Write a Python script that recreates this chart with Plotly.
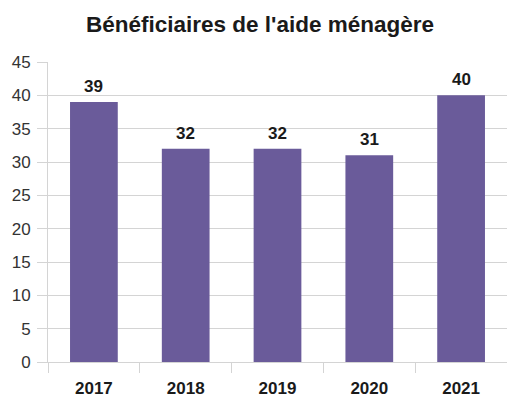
import plotly.graph_objects as go

years = ["2017", "2018", "2019", "2020", "2021"]
beneficiaires = [39, 32, 32, 31, 40]
y_ticks = [0, 5, 10, 15, 20, 25, 30, 35, 40, 45]

bar_color = "#6A5B9A"
grid_color = "#D4D4D4"
text_dark = "#1A1A1A"

fig = go.Figure(
    go.Bar(
        x=years,
        y=beneficiaires,
        marker=dict(color=bar_color, line=dict(width=0)),
        width=0.52,
        hoverinfo="x+y",
    )
)

# Value labels above each bar (category axis positions are given by index)
for idx, value in enumerate(beneficiaires):
    fig.add_annotation(
        x=idx,
        y=value,
        text=str(value),
        showarrow=False,
        xanchor="center",
        yanchor="bottom",
        yshift=4,
        font=dict(family="Liberation Sans", size=17, color=text_dark, weight="bold"),
    )

fig.update_layout(
    width=507,
    height=397,
    margin=dict(l=48, r=0, t=62, b=35),
    paper_bgcolor="white",
    plot_bgcolor="white",
    showlegend=False,
    title=dict(
        text="<b>Bénéficiaires de l'aide ménagère</b>",
        x=260 / 507,
        xanchor="center",
        xref="container",
        y=1 - 24 / 397,
        yanchor="middle",
        yref="container",
        font=dict(family="Liberation Sans", size=22.5, color=text_dark),
    ),
    bargap=0.48,
)

fig.update_xaxes(
    type="category",
    categoryorder="array",
    categoryarray=years,
    range=[-0.5, len(years) - 0.5],
    automargin=False,
    tickson="boundaries",
    ticks="outside",
    ticklen=10,
    tickcolor=grid_color,
    tickwidth=1,
    tickangle=0,
    showgrid=False,
    showline=True,
    linecolor=grid_color,
    ticklabelstandoff=11,
    tickfont=dict(family="Liberation Sans", size=17, color=text_dark, weight="bold"),
)

fig.update_yaxes(
    range=[0, 45],
    tickvals=y_ticks,
    automargin=False,
    ticks="outside",
    ticklen=10,
    tickcolor=grid_color,
    showgrid=True,
    gridcolor=grid_color,
    gridwidth=1,
    showline=True,
    linecolor=grid_color,
    zeroline=False,
    ticklabelstandoff=3,
    tickfont=dict(family="Liberation Sans", size=17, color="#333333"),
)

fig.write_html("out.html")
